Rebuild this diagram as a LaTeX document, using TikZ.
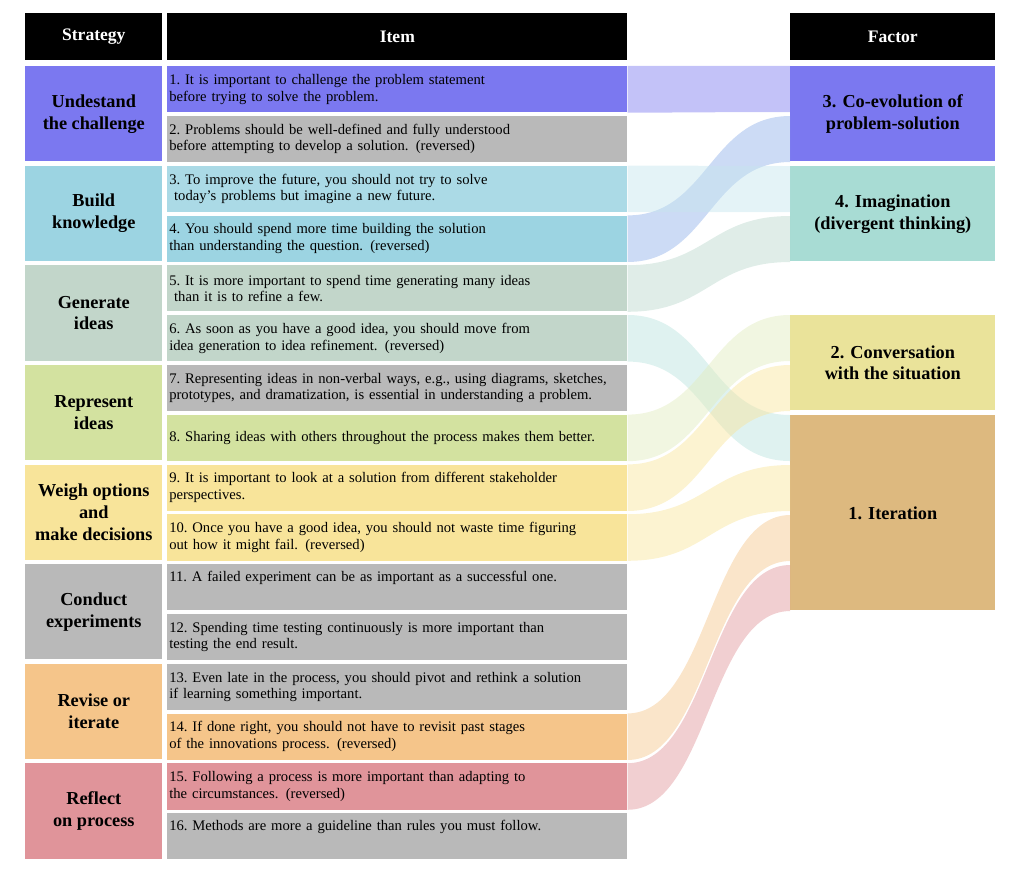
\documentclass[tikz,border=0pt]{standalone}
\usepackage{fontspec}
\setmainfont{Liberation Serif}
\usetikzlibrary{positioning, calc}
\definecolor{cPurple}{HTML}{7B78F0}
\definecolor{cBlue}{HTML}{9CD4E2}
\definecolor{cSage}{HTML}{C2D6CA}
\definecolor{cOlive}{HTML}{D3E2A0}
\definecolor{cYellow}{HTML}{F8E49A}
\definecolor{cGray}{HTML}{B9B9B9}
\definecolor{cOrange}{HTML}{F5C58A}
\definecolor{cRed}{HTML}{E0949A}
\definecolor{cTeal}{HTML}{A8DCD4}
\definecolor{cLemon}{HTML}{EAE39A}
\definecolor{cTan}{HTML}{DDB97F}
\tikzset{head/.style = {
  rectangle, fill=black, text=white,
  font=\fontsize{12.5}{14}\selectfont\bfseries,
  minimum height=1.175cm, anchor=north west,
  inner sep=0pt
  }}
\tikzset{strat/.style = {
  rectangle, fill=#1,
  minimum width=3.425cm, minimum height=2.375cm,
  anchor=north west, inner sep=0pt,
  align=center, font=\fontsize{13}{15.5}\selectfont\bfseries
  }}
\tikzset{item/.style = {
  rectangle, fill=#1,
  minimum width=11.5cm, minimum height=1.15cm,
  text width=11.4cm, anchor=north west, inner sep=0pt,
  align=left, font=\fontsize{10.4}{11.8}\selectfont
  }}
\tikzset{factor/.style = {
  rectangle, fill=#1,
  minimum width=5.125cm,
  anchor=north west, inner sep=0pt,
  align=center, font=\fontsize{13}{15.5}\selectfont\bfseries
  }}
\newcommand{\flowband}[4]{% item, factor, slot, colour
  \fill[#4, opacity=0.45]
    (#1.north east) .. controls +(2cm,0) and +(-2cm,0) ..
    ($(#2.north west)+(0,-1.25cm*#3)$) -- ($(#2.north west)+(0,-1.25cm*#3-1.15cm)$)
    .. controls +(-2cm,0) and +(2cm,0) .. (#1.south east) -- cycle;
}

\begin{document}
\begin{tikzpicture}[x=0.025cm, y=-0.025cm]
\useasboundingbox (0,0) rectangle (1024,874);

% HEADERS
\node (hstrat) [head, minimum width=3.425cm] at (25,13) {Strategy};
\node (hitem) [head, minimum width=11.5cm] at (167,13) {Item};
\node (hfac) [head, minimum width=5.125cm] at (790,13) {Factor};

% STRATEGIES
\foreach \t/\c [count=\j] in {
  {Undestand\\the challenge}/cPurple,
  {Build\\knowledge}/cBlue,
  {Generate\\ideas}/cSage,
  {Represent\\ideas}/cOlive,
  {Weigh options\\and\\make decisions}/cYellow,
  {Conduct\\experiments}/cGray,
  {Revise or\\iterate}/cOrange,
  {Reflect\\on process}/cRed}
  \node (s\j) [strat=\c] at (25,{66+(\j-1)*99.6}) {\t};

% ITEMS
\foreach \t/\c [count=\i] in {
  {1.\ It is important to challenge the problem statement\\before trying to solve the problem.}/cPurple,
  {2.\ Problems should be well-defined and fully understood\\before attempting to develop a solution. (reversed)}/cGray,
  {3.\ To improve the future, you should not try to solve\\\ today's problems but imagine a new future.}/cBlue!85,
  {4.\ You should spend more time building the solution\\than understanding the question. (reversed)}/cBlue,
  {5.\ It is more important to spend time generating many ideas\\\ than it is to refine a few.}/cSage,
  {6.\ As soon as you have a good idea, you should move from\\idea generation to idea refinement. (reversed)}/cSage,
  {7.\ Representing ideas in non-verbal ways, e.g., using diagrams, sketches,\\prototypes, and dramatization, is essential in understanding a problem.}/cGray,
  {8.\ Sharing ideas with others throughout the process makes them better.}/cOlive,
  {9.\ It is important to look at a solution from different stakeholder\\perspectives.}/cYellow,
  {10.\ Once you have a good idea, you should not waste time figuring\\out how it might fail. (reversed)}/cYellow,
  {11.\ A failed experiment can be as important as a successful one.\\\strut}/cGray,
  {12.\ Spending time testing continuously is more important than\\testing the end result.}/cGray,
  {13.\ Even late in the process, you should pivot and rethink a solution\\if learning something important.}/cGray,
  {14.\ If done right, you should not have to revisit past stages\\of the innovations process. (reversed)}/cOrange,
  {15.\ Following a process is more important than adapting to\\the circumstances. (reversed)}/cRed,
  {16.\ Methods are more a guideline than rules you must follow.\\\strut}/cGray}
  \node (i\i) [item=\c] at (167,{66+(\i-1)*49.8}) {\t};

% FACTORS
\node (f3) [factor=cPurple, minimum height=2.375cm] at (790,66) {3. Co-evolution of\\problem-solution};
\node (f4) [factor=cTeal, minimum height=2.375cm] at (790,166) {4. Imagination\\(divergent thinking)};
\node (f2) [factor=cLemon, minimum height=2.375cm] at (790,315) {2. Conversation\\with the situation};
\node (f1) [factor=cTan, minimum height=4.875cm] at (790,415) {1. Iteration};

% FLOWS
\flowband{i1}{f3}{0}{cPurple}
\flowband{i4}{f3}{1}{cPurple!40!cBlue}
\flowband{i3}{f4}{0}{cBlue!60}
\flowband{i5}{f4}{1}{cSage!70!cTeal}
\flowband{i6}{f1}{0}{cTeal!80}
\flowband{i8}{f2}{0}{cOlive!70}
\flowband{i9}{f2}{1}{cYellow}
\flowband{i10}{f1}{1}{cYellow}
\flowband{i14}{f1}{2}{cOrange}
\flowband{i15}{f1}{3}{cRed}
\end{tikzpicture}
\end{document}
